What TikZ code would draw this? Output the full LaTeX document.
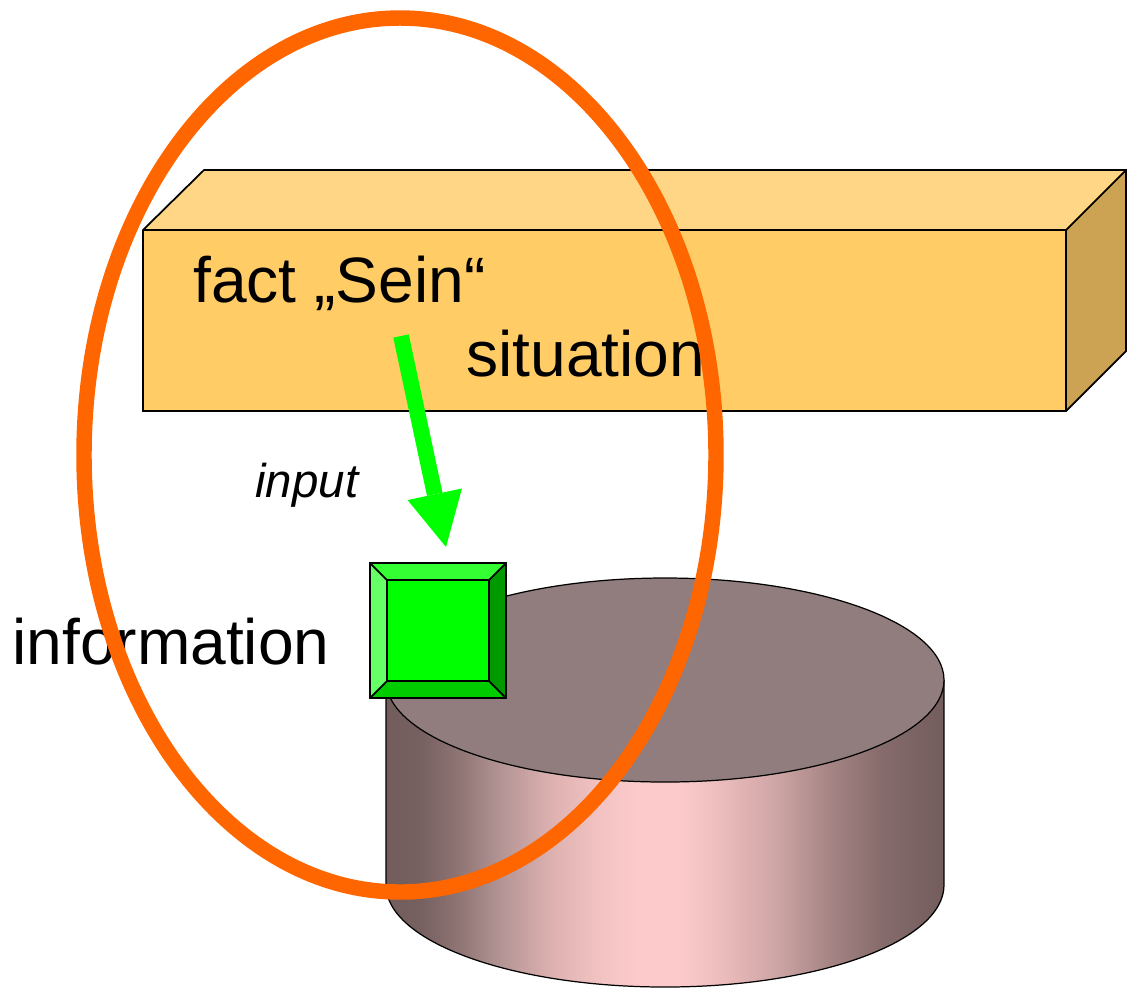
\documentclass[tikz,border=0pt]{standalone}
\usepackage{fontspec}
\setmainfont{Liberation Sans}
\usetikzlibrary{arrows.meta}
\definecolor{boxfront}{HTML}{FFCC66}
\definecolor{boxtop}{HTML}{FFD685}
\definecolor{boxside}{HTML}{CCA352}
\definecolor{cyltop}{HTML}{917D7D}
\definecolor{ringc}{HTML}{FF6600}
\definecolor{gmid}{HTML}{00FF00}
\definecolor{gtop}{HTML}{33FF33}
\definecolor{gleft}{HTML}{66FF66}
\definecolor{gright}{HTML}{009900}
\definecolor{gbottom}{HTML}{00CC00}
\definecolor{arrowc}{HTML}{00FF00}
\pgfdeclarehorizontalshading{cylside}{100bp}{
 rgb(0bp)=(0.451,0.361,0.361);
 rgb(25bp)=(0.451,0.361,0.361);
 rgb(28.05bp)=(0.463,0.376,0.376);
 rgb(31.6bp)=(0.565,0.459,0.459);
 rgb(35.2bp)=(0.698,0.580,0.580);
 rgb(39.7bp)=(0.867,0.690,0.690);
 rgb(44.2bp)=(0.953,0.765,0.765);
 rgb(47.8bp)=(0.988,0.792,0.792);
 rgb(51.3bp)=(0.988,0.792,0.792);
 rgb(54.9bp)=(0.929,0.741,0.741);
 rgb(60.3bp)=(0.800,0.639,0.639);
 rgb(64.8bp)=(0.647,0.518,0.518);
 rgb(69.3bp)=(0.529,0.424,0.424);
 rgb(75bp)=(0.451,0.361,0.361);
 rgb(100bp)=(0.451,0.361,0.361)}
\tikzset{
 outline/.style={draw=black, line width=1pt, line join=miter},
 thinline/.style={draw=black, line width=0.7pt},
 bigtext/.style={font=\fontsize{36.5}{44}\selectfont, inner sep=0pt, anchor=base west},
 smalltext/.style={font=\fontsize{27}{32}\selectfont\itshape, inner sep=0pt, anchor=base west},
 ring/.style={draw=ringc, line width=8.8pt},
 inarrow/.style={draw=arrowc, line width=9pt, -{Triangle[length=30.7pt,width=31.6pt,line width=0pt]}}
}
\begin{document}
\begin{tikzpicture}[x=0.02cm,y=-0.02cm]
\useasboundingbox (0,0) rectangle (1135,992);
% box
\fill[boxtop] (143,230) -- (204,170) -- (1126,170) -- (1066,230) -- cycle;
\fill[boxside] (1066,230) -- (1126,170) -- (1126,351) -- (1066,411) -- cycle;
\fill[boxfront] (143,230) rectangle (1066,411);
\draw[outline] (143,230) -- (204,170) -- (1126,170) -- (1126,351) -- (1066,411) -- (143,411) -- cycle;
\draw[outline] (143,230) -- (1066,230) -- (1126,170);
\draw[outline] (1066,230) -- (1066,411);
% arrow
\coordinate (astart) at (401,336);
\coordinate (aend) at (446,547);
\draw[inarrow] (astart) -- (aend);
% cylinder
\shade[shading=cylside] (386,680) -- (386,885) arc[start angle=180,end angle=360,x radius=279,y radius=-102] -- (944,680) -- cycle;
\draw[thinline] (386,680) -- (386,885) arc[start angle=180,end angle=360,x radius=279,y radius=-102] -- (944,680);
\filldraw[thinline, fill=cyltop] (665,680) ellipse [x radius=279, y radius=102];
% green square
\fill[gtop] (370,563) -- (506,563) -- (489,580) -- (387,580) -- cycle;
\fill[gleft] (370,563) -- (387,580) -- (387,681) -- (370,698) -- cycle;
\fill[gright] (506,563) -- (506,698) -- (489,681) -- (489,580) -- cycle;
\fill[gbottom] (370,698) -- (387,681) -- (489,681) -- (506,698) -- cycle;
\fill[gmid] (387,580) rectangle (489,681);
\draw[outline] (370,563) rectangle (506,698);
\draw[outline] (387,580) rectangle (489,681);
\draw[outline] (370,563) -- (387,580) (506,563) -- (489,580) (370,698) -- (387,681) (506,698) -- (489,681);
% texts
\node[bigtext] (fact) at (193,302) {fact „Sein“};
\node[bigtext] (situation) at (466,376) {situation};
\node[bigtext] (information) at (12,664) {information};
\node[smalltext] (input) at (255,497) {input};
% ring
\draw[ring] (400,455) ellipse [x radius=316, y radius=437];
\end{tikzpicture}
\end{document}
